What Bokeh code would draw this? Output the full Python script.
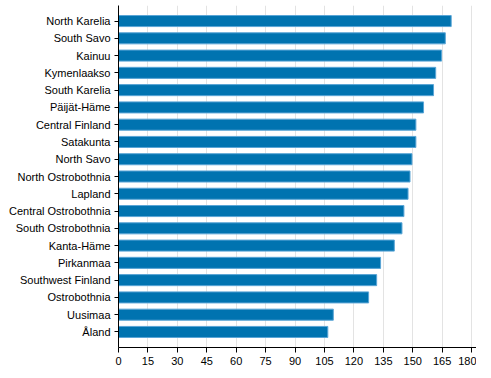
from bokeh.plotting import figure
from bokeh.models import FactorRange, Range1d, FixedTicker, ColumnDataSource
from bokeh.embed import file_html
from bokeh.resources import INLINE

regions = ["North Karelia", "South Savo", "Kainuu", "Kymenlaakso", "South Karelia",
           "Päijät-Häme", "Central Finland", "Satakunta", "North Savo",
           "North Ostrobothnia", "Lapland", "Central Ostrobothnia",
           "South Ostrobothnia", "Kanta-Häme", "Pirkanmaa", "Southwest Finland",
           "Ostrobothnia", "Uusimaa", "Åland"]
values = [169.6, 166.6, 164.7, 161.7, 160.6, 155.5, 151.6, 151.6, 149.6,
          148.6, 147.6, 145.5, 144.5, 140.6, 133.6, 131.6, 127.5, 109.5, 106.7]
x_ticks = [0, 15, 30, 45, 60, 75, 90, 105, 120, 135, 150, 165, 180]

src = ColumnDataSource(dict(region=regions, value=values))

yr = FactorRange(factors=list(reversed(regions)), range_padding=0.4,
                 range_padding_units="absolute")
p = figure(y_range=yr, x_range=Range1d(0, 182.5), output_backend="svg",
           toolbar_location=None, width=476, height=367,
           min_border_left=118, min_border_top=5, min_border_right=0,
           min_border_bottom=10)

p.hbar(y="region", right="value", left=0, height=0.64, source=src,
       fill_color="#0073b0", line_color="#5aa5d6", line_width=1)

p.outline_line_color = None
p.ygrid.grid_line_color = None
p.xgrid.grid_line_color = "#e3e3e3"
p.xgrid.grid_line_width = 1
p.xaxis.ticker = FixedTicker(ticks=x_ticks)
p.xaxis.minor_tick_line_color = None

for ax in (p.xaxis, p.yaxis):
    ax.axis_line_color = "black"
    ax.major_tick_line_color = "black"
    ax.major_label_text_font = "Liberation Sans"
    ax.major_label_text_font_size = "11px"
    ax.major_label_text_color = "black"
    ax.major_tick_in = 0

p.xaxis.major_tick_out = 5
p.yaxis.major_tick_out = 4
p.yaxis.major_label_standoff = 4
p.xaxis.major_label_standoff = 4

open("out.html", "w").write(file_html(p, INLINE))
